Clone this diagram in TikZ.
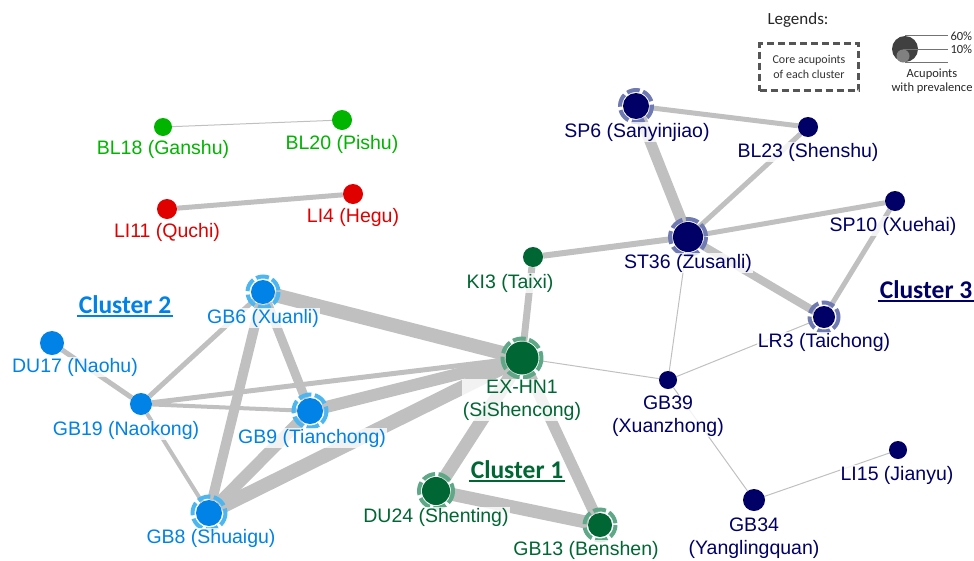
\documentclass[tikz,border=0pt]{standalone}
\usepackage{fontspec}
\setmainfont{Liberation Sans}
\newfontfamily\calibri{Carlito}
\usetikzlibrary{backgrounds}

\definecolor{ptgreen}{RGB}{0,180,0}
\definecolor{ptred}{RGB}{224,0,0}
\definecolor{cblue}{RGB}{0,130,230}
\definecolor{cbluering}{RGB}{75,182,240}
\definecolor{cgreen}{RGB}{0,102,51}
\definecolor{cgreenring}{RGB}{95,168,135}
\definecolor{cnavy}{RGB}{0,0,102}
\definecolor{cnavyring}{RGB}{112,122,178}
\definecolor{edgegray}{RGB}{192,192,192}
\definecolor{legendgray}{RGB}{85,85,85}

\tikzset{
  acu/.style={circle, fill=#1, inner sep=0pt},
  lbl/.style={text=#1, font=\fontsize{19.5}{23}\selectfont, align=center,
    inner sep=1pt, fill=white, fill opacity=0.8, text opacity=1},
  link/.style={draw=edgegray, line width=#1},
  ring/.style={draw=#1, line width=4pt, dash pattern=on 13pt off 3.5pt},
  clus/.style={text=#1, font=\calibri\bfseries\fontsize{25.5}{28}\selectfont, inner sep=2pt},
}

\begin{document}
\begin{tikzpicture}[x=1pt, y=-1pt]
\useasboundingbox (0,0) rectangle (974,560);

% isolated pairs
\node[acu=ptgreen, minimum size=18pt] (bl18) at (163,127) {};
\node[acu=ptgreen, minimum size=20pt] (bl20) at (342,120) {};
\node[acu=ptred, minimum size=20pt] (li11) at (167,209) {};
\node[acu=ptred, minimum size=20pt] (li4) at (353,194) {};

% cluster 2
\draw[ring=cbluering] (263,292) circle (15.5);
\draw[ring=cbluering] (310,411) circle (16.5);
\draw[ring=cbluering] (209,513) circle (16.5);
\node[acu=cblue, minimum size=24pt] (gb6) at (263,292) {};
\node[acu=cblue, minimum size=24pt] (du17) at (52,343) {};
\node[acu=cblue, minimum size=22pt] (gb19) at (141,404) {};
\node[acu=cblue, minimum size=26pt] (gb9) at (310,411) {};
\node[acu=cblue, minimum size=26pt] (gb8) at (209,513) {};

% cluster 1
\draw[ring=cgreenring] (522,358) circle (19.5);
\draw[ring=cgreenring] (436,491) circle (17);
\draw[ring=cgreenring] (600,525) circle (15.5);
\node[acu=cgreen, minimum size=20pt] (ki3) at (533,257) {};
\node[acu=cgreen, minimum size=33pt] (exhn1) at (522,358) {};
\node[acu=cgreen, minimum size=28pt] (du24) at (436,491) {};
\node[acu=cgreen, minimum size=24pt] (gb13) at (600,525) {};

% cluster 3
\draw[ring=cnavyring] (636,106) circle (16);
\draw[ring=cnavyring] (688,237) circle (18);
\draw[ring=cnavyring] (824,317) circle (14.5);
\node[acu=cnavy, minimum size=26pt] (sp6) at (636,106) {};
\node[acu=cnavy, minimum size=20pt] (bl23) at (808,127) {};
\node[acu=cnavy, minimum size=20pt] (sp10) at (895,201) {};
\node[acu=cnavy, minimum size=30pt] (st36) at (688,237) {};
\node[acu=cnavy, minimum size=22pt] (lr3) at (824,317) {};
\node[acu=cnavy, minimum size=18pt] (gb39) at (668,380) {};
\node[acu=cnavy, minimum size=22pt] (gb34) at (754,500) {};
\node[acu=cnavy, minimum size=18pt] (li15) at (898,450) {};

% co-occurrence links
\begin{scope}[on background layer]
\draw[link=1pt] (bl18) -- (bl20);
\draw[link=5pt] (li11) -- (li4);
\draw[link=5pt] (du17) -- (gb19);
\draw[link=5pt] (gb19) -- (gb6);
\draw[link=4pt] (gb19) -- (gb9);
\draw[link=5pt] (gb19) -- (exhn1);
\draw[link=4pt] (gb19) -- (gb8);
\draw[link=10pt] (gb6) -- (gb8);
\draw[link=9pt] (gb6) -- (gb9);
\draw[link=14pt] (gb6) -- (exhn1);
\draw[link=12pt] (gb9) -- (gb8);
\draw[link=12pt] (gb9) -- (exhn1);
\draw[link=14pt] (gb8) -- (exhn1);
\draw[link=7pt] (ki3) -- (exhn1);
\draw[link=6pt] (ki3) -- (st36);
\draw[link=13pt] (exhn1) -- (du24);
\draw[link=11pt] (exhn1) -- (gb13);
\draw[link=13pt] (du24) -- (gb13);
\draw[link=1pt] (exhn1) -- (gb39);
\draw[link=5pt] (sp6) -- (bl23);
\draw[link=11pt] (sp6) -- (st36);
\draw[link=5pt] (bl23) -- (st36);
\draw[link=5pt] (st36) -- (sp10);
\draw[link=8pt] (st36) -- (lr3);
\draw[link=5pt] (sp10) -- (lr3);
\draw[link=1pt] (st36) -- (gb39);
\draw[link=1pt] (gb39) -- (lr3);
\draw[link=1pt] (gb39) -- (gb34);
\draw[link=1pt] (gb34) -- (li15);
\end{scope}

% labels
\node[lbl=ptgreen] (bl18l) at (163,149) {BL18 (Ganshu)};
\node[lbl=ptgreen] (bl20l) at (342,144) {BL20 (Pishu)};
\node[lbl=ptred] (li11l) at (167,232) {LI11 (Quchi)};
\node[lbl=ptred] (li4l) at (353,217) {LI4 (Hegu)};
\node[lbl=cblue] (gb6l) at (263,318) {GB6 (Xuanli)};
\node[lbl=cblue] (du17l) at (75,367) {DU17 (Naohu)};
\node[lbl=cblue] (gb19l) at (126,430) {GB19 (Naokong)};
\node[lbl=cblue] (gb9l) at (312,438) {GB9 (Tianchong)};
\node[lbl=cblue] (gb8l) at (211,538) {GB8 (Shuaigu)};
\node[lbl=cgreen] (ki3l) at (510,283) {KI3 (Taixi)};
\node[lbl=cgreen] (exhn1l) at (522,400) {EX-HN1\\(SiShencong)};
\node[lbl=cgreen] (du24l) at (436,517) {DU24 (Shenting)};
\node[lbl=cgreen] (gb13l) at (586,550) {GB13 (Benshen)};
\node[lbl=cnavy] (sp6l) at (637,132) {SP6 (Sanyinjiao)};
\node[lbl=cnavy] (bl23l) at (808,152) {BL23 (Shenshu)};
\node[lbl=cnavy] (sp10l) at (893,226) {SP10 (Xuehai)};
\node[lbl=cnavy] (st36l) at (688,263) {ST36 (Zusanli)};
\node[lbl=cnavy] (lr3l) at (824,342) {LR3 (Taichong)};
\node[lbl=cnavy] (gb39l) at (668,416) {GB39\\(Xuanzhong)};
\node[lbl=cnavy] (gb34l) at (754,538) {GB34\\(Yanglingquan)};
\node[lbl=cnavy] (li15l) at (897,475) {LI15 (Jianyu)};

% cluster titles
\node[clus=cblue] (c2) at (125,305) {Cluster 2};
\draw[cblue, line width=1.5pt] (c2.south west) -- (c2.south east);
\node[clus=cgreen] (c1) at (517,470) {Cluster 1};
\draw[cgreen, line width=1.5pt] (c1.south west) -- (c1.south east);
\node[clus=cnavy] (c3) at (926,290) {Cluster 3};
\draw[cnavy, line width=1.5pt] (c3.south west) -- (c3.south east);

% legends
\node[text=black!85, font=\calibri\fontsize{17}{20}\selectfont] (legtitle) at (798,20) {Legends:};
\node[draw=legendgray, line width=3pt, dash pattern=on 7pt off 4pt,
  minimum width=99pt, minimum height=47pt, align=center, text=black!80,
  font=\calibri\fontsize{12}{14.5}\selectfont] (legcore) at (809,67) {Core acupoints\\of each cluster};
\node[acu=black!75, minimum size=26pt] (legbig) at (905,49) {};
\node[acu=black!50, minimum size=13pt] (legsmall) at (903,56) {};
\draw[black!55, line width=1pt] (legbig.north) -- ++(43,0) node[right, black!85, font=\calibri\fontsize{12.5}{15}\selectfont, inner sep=2pt] {60\%};
\draw[black!55, line width=1pt] (legsmall.north) -- ++(45,0) node[right, black!85, font=\calibri\fontsize{12.5}{15}\selectfont, inner sep=2pt] {10\%};
\draw[black!55, line width=1pt] (legbig.south) -- ++(43,0);
\node[align=center, text=black!85, font=\calibri\fontsize{12.5}{14.5}\selectfont] (legprev) at (932,81) {Acupoints\\with prevalence};
\end{tikzpicture}
\end{document}
